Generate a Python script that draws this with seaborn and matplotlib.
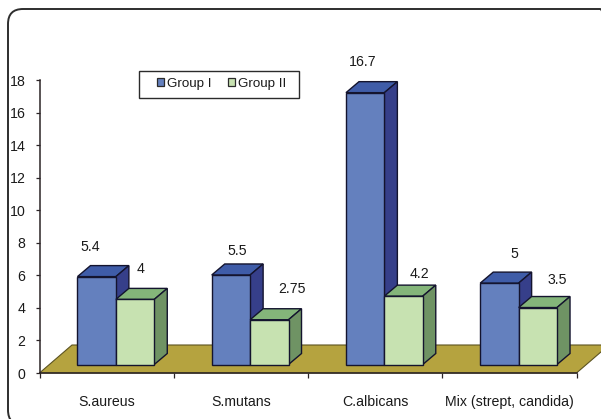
import matplotlib
matplotlib.use("Agg")
import matplotlib.pyplot as plt
from matplotlib.patches import FancyBboxPatch, Polygon, Patch, Rectangle
from matplotlib.transforms import IdentityTransform
import pandas as pd
import seaborn as sns

organisms = ["S.aureus", "S.mutans", "C.albicans", "Mix (strept, candida)"]
group_i = [5.4, 5.5, 16.7, 5]
group_ii = [4, 2.75, 4.2, 3.5]
value_labels_i = ["5.4", "5.5", "16.7", "5"]
value_labels_ii = ["4", "2.75", "4.2", "3.5"]
y_ticks = list(range(0, 19, 2))

W, H = 601, 419
X0, X1, Y0, Y18 = 39.5, 576.5, 373, 80
PX_X = (X1 - X0) / 4          # pixels per category
PX_Y = (Y0 - Y18) / 18        # pixels per unit

# Extrusion of the pseudo-3D columns and floor, in data units
depth_x, depth_y = 13 / PX_X, 11 / PX_Y
floor_x, floor_y = 32.5 / PX_X, 28 / PX_Y
lift = 8.5 / PX_Y
shift = 9.25 / PX_X

palette = {"Group I": "#6480BE", "Group II": "#C7E2B1"}
top_colors = {"Group I": "#3F5CA8", "Group II": "#84B57A"}
side_colors = {"Group I": "#363F8A", "Group II": "#6F9364"}
edge = "#14142E"
ink = "#1A1A1A"
FONT = 10.2

# Value label offsets from the top centre of each column, in pixels
offsets_i = [(-6.75, 29.5), (6.5, 24), (-2.5, 30.7), (14.5, 29)]
offsets_ii = [(5.5, 30), (22.5, 31), (15.5, 21.7), (19.5, 27.7)]

sns.set_style("white")
plt.rcParams["font.family"] = ["Liberation Sans", "DejaVu Sans"]
plt.rcParams["font.size"] = FONT

df = pd.DataFrame({
    "organism": organisms * 2,
    "count": group_i + group_ii,
    "group": ["Group I"] * 4 + ["Group II"] * 4,
})

fig = plt.figure(figsize=(W / 100, H / 100), dpi=100, facecolor="white")

# Rounded outer frame, running slightly past the right and bottom edges
frame = FancyBboxPatch(
    (23, 9), 577, 386,
    boxstyle="round,pad=15,rounding_size=15",
    transform=None, fill=False, ec="#2E2E2E", lw=1.4, clip_on=False,
)
fig.add_artist(frame)

ax = fig.add_axes([X0 / W, (H - Y0) / H, (X1 - X0) / W, (Y0 - Y18) / H])
ax.patch.set_alpha(0)

sns.barplot(
    data=df, x="organism", y="count", hue="group", order=organisms,
    hue_order=["Group I", "Group II"], palette=palette, saturation=1,
    width=0.572, gap=0, bottom=lift, ax=ax, legend=False,
    edgecolor=edge, linewidth=1.0,
)

ax.set_xlim(-0.5, 3.5)
ax.set_ylim(0, 18)

# Floor plane under the columns
floor = Polygon(
    [(-0.5, 0), (3.5, 0), (3.5 + floor_x, floor_y), (-0.5 + floor_x, floor_y)],
    closed=True, fc="#B5A33F", ec="#5C5320", lw=0.8, zorder=1, clip_on=False,
)
ax.add_patch(floor)

groups = ["Group I", "Group II"]
all_labels = [value_labels_i, value_labels_ii]
all_offsets = [offsets_i, offsets_ii]
for g, (container, group) in enumerate(zip(ax.containers, groups)):
    base_z = 2 + 2 * g
    for bar, text, (ox, oy) in zip(container, all_labels[g], all_offsets[g]):
        bar.set_x(bar.get_x() + shift)
        bar.set_zorder(base_z + 1)
        bar.set_clip_on(False)
        x0, w = bar.get_x(), bar.get_width()
        y0, h = bar.get_y(), bar.get_height()
        x1, y1 = x0 + w, y0 + h
        top = Polygon(
            [(x0, y1), (x1, y1), (x1 + depth_x, y1 + depth_y), (x0 + depth_x, y1 + depth_y)],
            closed=True, fc=top_colors[group], ec=edge, lw=1.0, zorder=base_z, clip_on=False,
        )
        side = Polygon(
            [(x1, y0), (x1 + depth_x, y0 + depth_y), (x1 + depth_x, y1 + depth_y), (x1, y1)],
            closed=True, fc=side_colors[group], ec=edge, lw=1.0, zorder=base_z, clip_on=False,
        )
        ax.add_patch(top)
        ax.add_patch(side)
        ax.annotate(
            text, (x0 + w / 2, y1), xytext=(ox, oy), textcoords="offset pixels",
            ha="center", va="center", fontsize=FONT, color=ink, zorder=10,
        )

# Axes: ticks bound the categories, labels sit between them
for s in ("top", "right"):
    ax.spines[s].set_visible(False)
for s in ("left", "bottom"):
    ax.spines[s].set_color("#2B2426")
    ax.spines[s].set_linewidth(1.1)
    ax.spines[s].set_zorder(6)

ax.set_xlabel("")
ax.set_ylabel("")
ax.set_yticks(y_ticks)
ax.set_yticklabels([str(t) for t in y_ticks])
ax.set_xticks([-0.5, 0.5, 1.5, 2.5, 3.5])
ax.set_xticklabels([])
ax.set_xticks([0, 1, 2, 3], minor=True)
ax.set_xticklabels(organisms, minor=True)
ax.tick_params(axis="y", which="major", direction="out", length=2.6, width=0.9,
               color="#2B2426", pad=7.5, labelsize=FONT, labelcolor=ink, left=True)
ax.tick_params(axis="x", which="major", direction="out", length=3.8, width=0.9,
               color="#2B2426", bottom=True)
ax.tick_params(axis="x", which="minor", length=0, pad=15.5, labelsize=FONT,
               labelcolor=ink, bottom=True)

# Legend box is drawn separately so its side padding can differ from the height
legend_box = Rectangle(
    (139, H - 97.5), 160, 27, transform=IdentityTransform(), fc="white",
    ec="#2B2B2B", lw=1.0, zorder=11, clip_on=False,
)
ax.add_patch(legend_box)

handles = [Patch(fc=palette[g], ec="#2B2B2B", lw=0.9, label=g) for g in groups]
leg = ax.legend(
    handles=handles, ncol=2, loc="center left",
    bbox_to_anchor=(156.5 / W, (H - 84) / H), bbox_transform=fig.transFigure,
    frameon=False, fontsize=9.6, handlelength=0.55, handleheight=0.55,
    handletextpad=0.22, columnspacing=1.25, borderpad=0, borderaxespad=0,
    labelcolor=ink,
)
leg.set_zorder(12)

fig.savefig("out.png", dpi=100, facecolor="white")
